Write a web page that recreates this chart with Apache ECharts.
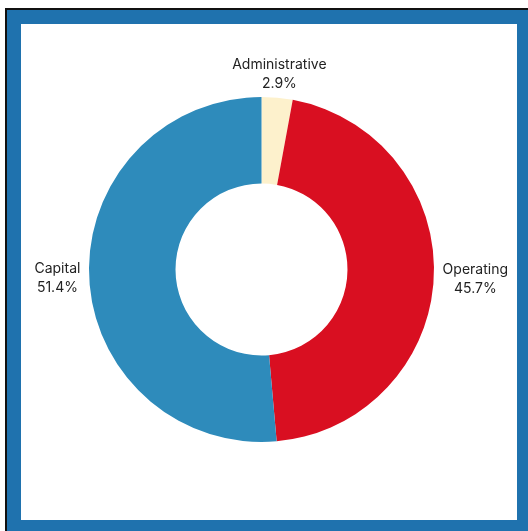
<!DOCTYPE html>
<html>
<head>
<meta charset="utf-8" />
<script src="https://cdn.jsdelivr.net/npm/echarts@6/dist/echarts.min.js"></script>
<style>
  html, body { margin: 0; padding: 0; background: #ffffff; }
  #frame {
    position: absolute;
    left: 5px;
    top: 8px;
    width: 521px;
    height: 521px;
    border-left: 2px solid #111;
    border-top: 2px solid #111;
    background: #1f72ae;
  }
  #chart {
    position: absolute;
    left: 21px;
    top: 24px;
    width: 496px;
    height: 496px;
    background: #ffffff;
  }
</style>
</head>
<body>
<div id="frame"></div>
<div id="chart"></div>
<script>
// spend categories and their share of the total (%)
const categories = ["Administrative", "Operating", "Capital"];
const shares = [2.9, 45.7, 51.4];
const sliceColors = ["#fdf1cc", "#d90f21", "#2e8bbb"];

const LABEL_GAP = 8;

const chart = echarts.init(document.getElementById("chart"));

// put each label just outside its slice, centred on the slice's mid angle
const labelLayout = (params) => {
  const layout = chart
    .getModel()
    .getSeriesByIndex(0)
    .getData()
    .getItemLayout(params.dataIndex);
  const mid = (layout.startAngle + layout.endAngle) / 2;
  const ux = Math.cos(mid);
  const uy = Math.sin(mid);
  const w = params.labelRect.width;
  const h = params.labelRect.height;
  const d = LABEL_GAP * Math.abs(ux) + (Math.abs(ux) * w) / 2 + (Math.abs(uy) * h) / 2;
  return {
    x: layout.cx + ux * (layout.r + d),
    y: layout.cy + uy * (layout.r + d),
    align: "center",
    verticalAlign: "middle",
  };
};

const options = {
  animation: false,
  series: [
    {
      type: "pie",
      center: [240.5, 245.5],
      radius: [86, 172.5],
      startAngle: 90,
      clockwise: true,
      avoidLabelOverlap: false,
      data: categories.map((name, i) => ({
        name: name,
        value: shares[i],
        itemStyle: { color: sliceColors[i] },
      })),
      itemStyle: { borderWidth: 0 },
      label: {
        show: true,
        position: "outside",
        alignTo: "none",
        overflow: "none",
        formatter: "{b}\n{c}%",
        color: "#222222",
        fontSize: 14,
        lineHeight: 19,
        fontFamily: "Inter, sans-serif",
      },
      labelLine: { show: false },
      labelLayout: labelLayout,
      emphasis: { disabled: true },
    },
  ],
};

chart.setOption(options);
</script>
</body>
</html>
